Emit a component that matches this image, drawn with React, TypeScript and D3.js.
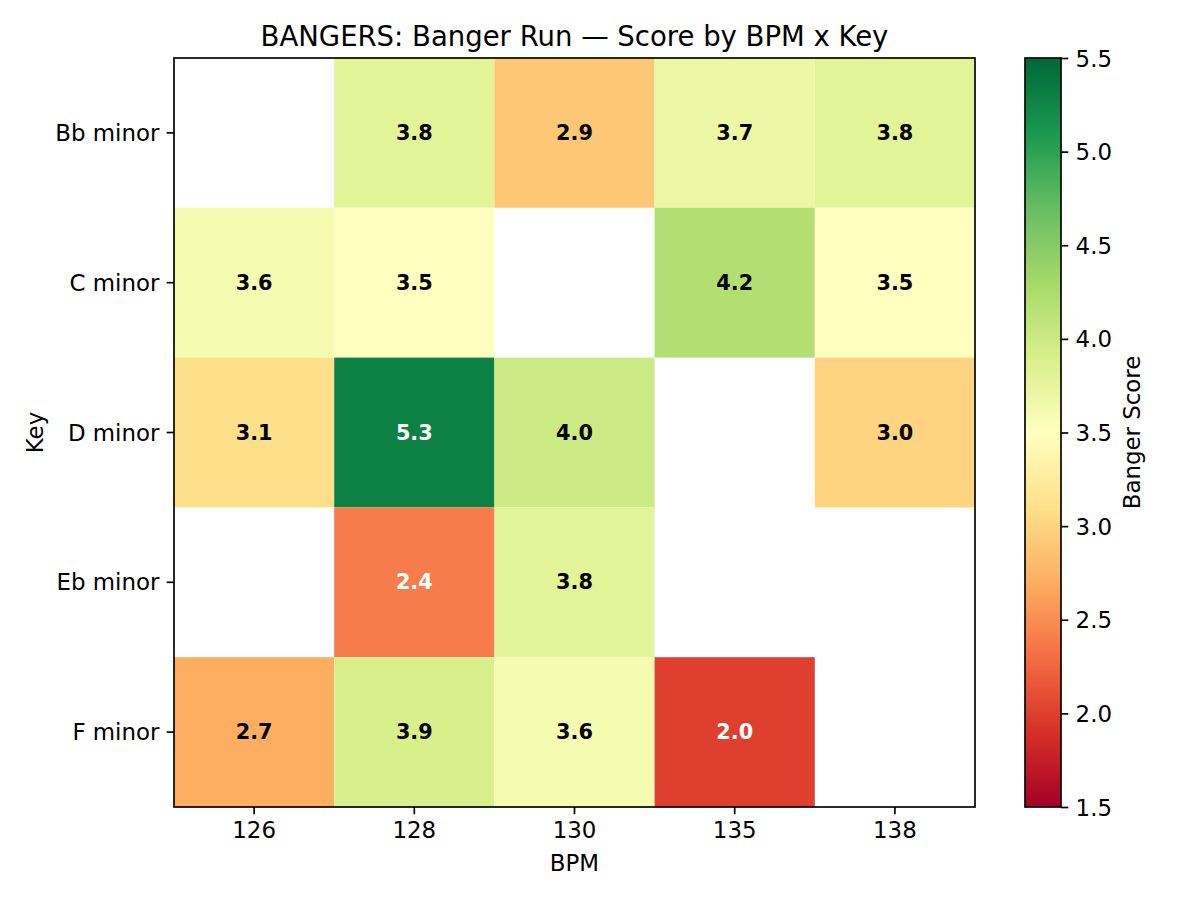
import React, { useEffect, useRef } from 'react';
import * as d3 from 'd3';

const bpms = ['126', '128', '130', '135', '138'];
const keys = ['Bb minor', 'C minor', 'D minor', 'Eb minor', 'F minor'];

// one row of scores per key, null = no tracks in that cell
const bbMinor = [null, 3.8, 2.9, 3.7, 3.8];
const cMinor = [3.6, 3.5, null, 4.2, 3.5];
const dMinor = [3.1, 5.3, 4.0, null, 3.0];
const ebMinor = [null, 2.4, 3.8, null, null];
const fMinor = [2.7, 3.9, 3.6, 2.0, null];
const scoreRows = [bbMinor, cMinor, dMinor, ebMinor, fMinor];

const colorbarTicks = [1.5, 2.0, 2.5, 3.0, 3.5, 4.0, 4.5, 5.0, 5.5];
const vmin = 1.5;
const vmax = 5.5;

// matplotlib RdYlGn control colours
const rdYlGn = ['#a50026', '#d73027', '#f46d43', '#fdae61', '#fee08b', '#ffffbf',
  '#d9ef8b', '#a6d96a', '#66bd63', '#1a9850', '#006837'];

const FONT = 'DejaVu Sans, sans-serif';

const App: React.FC = () => {
  const svgRef = useRef<SVGSVGElement | null>(null);

  useEffect(() => {
    const width = 1200;
    const height = 900;
    const svg = d3.select(svgRef.current);
    svg.selectAll('*').remove();

    const plot = { left: 174, right: 975, top: 58, bottom: 807 };
    const cbar = { left: 1025, right: 1061 };

    const x = d3.scaleBand().domain(bpms).range([plot.left, plot.right]).padding(0);
    const y = d3.scaleBand().domain(keys).range([plot.top, plot.bottom]).padding(0);

    const color = d3.scaleLinear<string>()
      .domain(rdYlGn.map((_, i) => vmin + (i * (vmax - vmin)) / (rdYlGn.length - 1)))
      .range(rdYlGn)
      .interpolate(d3.interpolateRgb)
      .clamp(true);

    svg.append('rect').attr('width', width).attr('height', height).attr('fill', '#fff');

    const cells = keys.flatMap((k, r) =>
      bpms.map((b, c) => ({ key: k, bpm: b, value: scoreRows[r][c] }))
    ).filter(d => d.value !== null) as { key: string; bpm: string; value: number }[];

    // Cells
    svg.append('g')
      .selectAll('rect')
      .data(cells)
      .join('rect')
      .attr('x', d => x(d.bpm)!)
      .attr('y', d => y(d.key)!)
      .attr('width', x.bandwidth())
      .attr('height', y.bandwidth())
      .attr('fill', d => color(d.value));

    // Annotations
    svg.append('g')
      .selectAll('text')
      .data(cells)
      .join('text')
      .attr('x', d => x(d.bpm)! + x.bandwidth() / 2)
      .attr('y', d => y(d.key)! + y.bandwidth() / 2)
      .attr('text-anchor', 'middle')
      .attr('dominant-baseline', 'central')
      .attr('font-family', FONT)
      .attr('font-size', 20.8)
      .attr('font-weight', 'bold')
      .attr('fill', d => (d.value < 2.5 || d.value > 4.5 ? '#fff' : '#000'))
      .text(d => d.value.toFixed(1));

    const styleAxis = (g: d3.Selection<SVGGElement, unknown, null, undefined>) => {
      g.select('.domain').remove();
      g.selectAll('line').attr('stroke', '#000').attr('stroke-width', 1.67);
      g.selectAll('text')
        .attr('font-family', FONT)
        .attr('font-size', 22.9)
        .attr('fill', '#000');
    };

    // X Axis
    svg.append('g')
      .attr('transform', `translate(0,${plot.bottom})`)
      .call(d3.axisBottom(x).tickSize(7.3).tickPadding(7.3))
      .call(styleAxis)
      .selectAll('text')
      .attr('dy', '0.72em');

    // Y Axis
    svg.append('g')
      .attr('transform', `translate(${plot.left},0)`)
      .call(d3.axisLeft(y).tickSize(7.3).tickPadding(7.3))
      .call(styleAxis)
      .selectAll('text')
      .attr('dy', '0.35em');

    // Frame
    svg.append('rect')
      .attr('x', plot.left)
      .attr('y', plot.top)
      .attr('width', plot.right - plot.left)
      .attr('height', plot.bottom - plot.top)
      .attr('fill', 'none')
      .attr('stroke', '#000')
      .attr('stroke-width', 1.67);

    // Axis labels and title
    svg.append('text')
      .attr('x', (plot.left + plot.right) / 2)
      .attr('y', 871)
      .attr('text-anchor', 'middle')
      .attr('font-family', FONT)
      .attr('font-size', 22.9)
      .text('BPM');

    svg.append('text')
      .attr('transform', `translate(43,${(plot.top + plot.bottom) / 2}) rotate(-90)`)
      .attr('text-anchor', 'middle')
      .attr('font-family', FONT)
      .attr('font-size', 22.9)
      .text('Key');

    svg.append('text')
      .attr('x', (plot.left + plot.right) / 2)
      .attr('y', 46)
      .attr('text-anchor', 'middle')
      .attr('font-family', FONT)
      .attr('font-size', 27.5)
      .text('BANGERS: Banger Run \u2014 Score by BPM x Key');

    // Colorbar
    const cb = d3.scaleLinear().domain([vmin, vmax]).range([plot.bottom, plot.top]);
    const grad = svg.append('defs')
      .append('linearGradient')
      .attr('id', 'cbGrad')
      .attr('x1', 0).attr('y1', 1).attr('x2', 0).attr('y2', 0);
    grad.selectAll('stop')
      .data(rdYlGn)
      .join('stop')
      .attr('offset', (_, i) => i / (rdYlGn.length - 1))
      .attr('stop-color', d => d);

    svg.append('rect')
      .attr('x', cbar.left)
      .attr('y', plot.top)
      .attr('width', cbar.right - cbar.left)
      .attr('height', plot.bottom - plot.top)
      .attr('fill', 'url(#cbGrad)')
      .attr('stroke', '#000')
      .attr('stroke-width', 1.67);

    svg.append('g')
      .attr('transform', `translate(${cbar.right},0)`)
      .call(d3.axisRight(cb).tickValues(colorbarTicks).tickFormat(d3.format('.1f')).tickSize(7.3).tickPadding(7.3))
      .call(styleAxis)
      .selectAll('text')
      .attr('dy', '0.35em');

    svg.append('text')
      .attr('transform', `translate(1140,${(plot.top + plot.bottom) / 2}) rotate(-90)`)
      .attr('text-anchor', 'middle')
      .attr('font-family', FONT)
      .attr('font-size', 22.9)
      .text('Banger Score');
  }, []);

  return (
    <svg
      ref={svgRef}
      width={1200}
      height={900}
      style={{ position: 'absolute', left: 0, top: 0, display: 'block' }}
    />
  );
};

export default App;
